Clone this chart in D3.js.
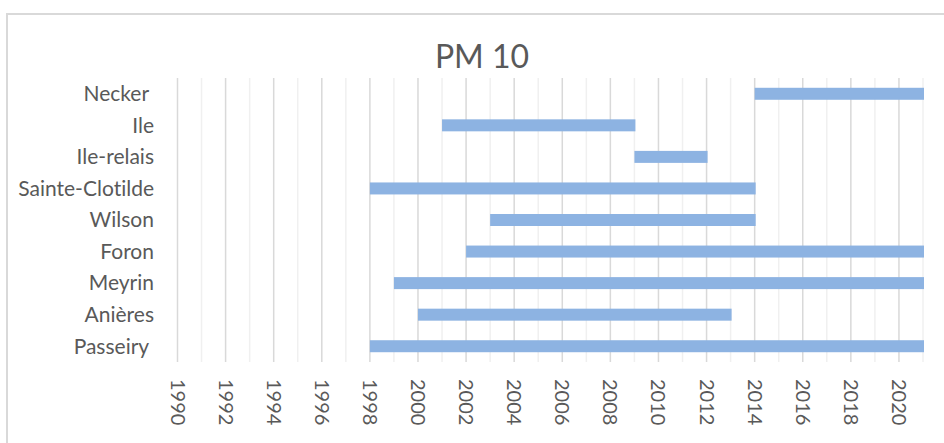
<!DOCTYPE html>
<html>
<head>
<meta charset="utf-8">
<script src="https://cdn.jsdelivr.net/npm/d3@7"></script>
<style>
  body { margin: 0; background: #fff; }
  text { font-family: Lato, "Open Sans", sans-serif; fill: #595959; font-variant-ligatures: none; }
</style>
</head>
<body>
<div id="container"></div>
<script>
const stations = ["Necker ", "Ile", "Ile-relais", "Sainte-Clotilde", "Wilson", "Foron", "Meyrin", "Anières", "Passeiry "];
const startYears = [2014, 2001, 2009, 1998, 2003, 2002, 1999, 2000, 1998];
const endYears = [2021, 2009, 2012, 2014, 2014, 2021, 2021, 2013, 2021];
const tickYears = [1990, 1992, 1994, 1996, 1998, 2000, 2002, 2004, 2006, 2008, 2010, 2012, 2014, 2016, 2018, 2020];

const w = 944;
const h = 443;
const plotLeft = 177.5, plotRight = 923, plotTop = 78, plotBottom = 362;

const data = stations.map((s, i) => ({name: s, start: startYears[i], end: endYears[i]}));

const svg = d3.select("#container")
              .append("svg")
              .attr("width", w)
              .attr("height", h);

// chart frame
svg.append("path")
   .attr("d", "M7,443 V14 H944")
   .attr("fill", "none")
   .attr("stroke", "#d9d9d9")
   .attr("stroke-width", 2);

var xScale = d3.scaleLinear()
               .domain([1990, 2021])
               .range([plotLeft, plotRight]);

var yScale = d3.scaleBand()
               .domain(stations)
               .range([plotTop, plotBottom])
               .paddingInner(0.62)
               .paddingOuter(0.31);

// gridlines, every year
svg.append("g")
   .selectAll("line")
   .data(d3.range(1990, 2022))
   .enter()
   .append("line")
   .attr("x1", (d) => xScale(d))
   .attr("x2", (d) => xScale(d))
   .attr("y1", plotTop)
   .attr("y2", plotBottom)
   .attr("stroke", (d) => d % 2 == 0 ? "#d9d9d9" : "#f0f0f0")
   .attr("stroke-width", 1.5);

svg.selectAll("rect.bar")
   .data(data)
   .enter()
   .append("rect")
   .attr("class", "bar")
   .attr("x", (d) => xScale(d.start))
   .attr("y", (d) => yScale(d.name))
   .attr("width", (d) => xScale(d.end) - xScale(d.start) + 1)
   .attr("height", yScale.bandwidth())
   .attr("fill", "#8db3e2");

// category labels
svg.append("g")
   .selectAll("text")
   .data(stations)
   .enter()
   .append("text")
   .attr("x", 154)
   .attr("y", (d) => yScale(d) + yScale.bandwidth() / 2)
   .attr("dy", "0.35em")
   .attr("text-anchor", "end")
   .style("white-space", "pre")
   .style("font-size", "21px")
   .text((d) => d);

// x tick labels, rotated
svg.append("g")
   .selectAll("text")
   .data(tickYears)
   .enter()
   .append("text")
   .attr("transform", (d) => "translate(" + xScale(d) + ",379) rotate(90)")
   .attr("dy", "0.35em")
   .attr("text-anchor", "start")
   .style("font-size", "20px")
   .text((d) => d);

svg.append("text")
   .attr("x", 482)
   .attr("y", 68)
   .attr("text-anchor", "middle")
   .style("font-size", "32px")
   .text("PM 10");
</script>
</body>
</html>
